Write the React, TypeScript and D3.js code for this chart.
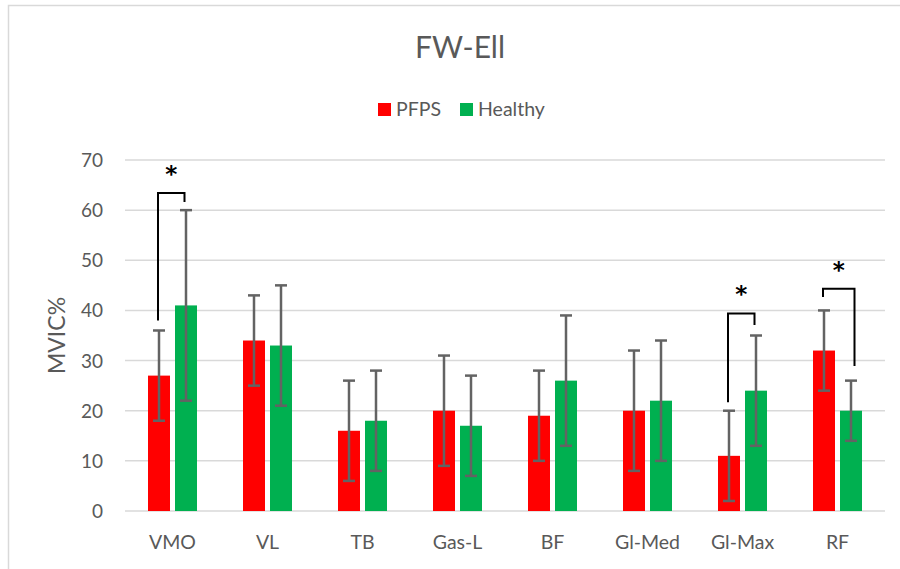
import React from "react";
import * as d3 from "d3";

const categories = ["VMO", "VL", "TB", "Gas-L", "BF", "Gl-Med", "Gl-Max", "RF"];
const seriesNames = ["PFPS", "Healthy"];
const pfpsMeans = [27, 34, 16, 20, 19, 20, 11, 32];
const pfpsSD = [9, 9, 10, 11, 9, 12, 9, 8];
const healthyMeans = [41, 33, 18, 17, 26, 22, 24, 20];
const healthySD = [19, 12, 10, 10, 13, 12, 11, 6];
const yTicks = [0, 10, 20, 30, 40, 50, 60, 70];

// Significance brackets: category index, left-leg bottom, top, right-leg bottom (in MVIC%)
const sigCategory = [0, 6, 7];
const sigLeftLow = [38, 21.7, 42.7];
const sigTop = [63.4, 39.4, 44.3];
const sigRightLow = [61.6, 37.1, 28.9];

const W = 900;
const H = 569;
const margin = { left: 125, right: 15, top: 160, bottom: 58 };
const font = "Lato, 'Open Sans', sans-serif";
const textColor = "#595959";
const colors = ["#ff0000", "#00b050"];

export default function App() {
  const x = d3
    .scaleBand<string>()
    .domain(categories)
    .range([margin.left, W - margin.right])
    .paddingInner(0)
    .paddingOuter(0);
  const y = d3.scaleLinear().domain([0, 70]).range([H - margin.bottom, margin.top]);

  const barW = 22;
  const gap = 5;
  const barX = (i: number, s: number) => {
    const c = (x(categories[i]) as number) + x.bandwidth() / 2;
    return s === 0 ? c - gap / 2 - barW : c + gap / 2;
  };

  const series = [
    { means: pfpsMeans, sd: pfpsSD },
    { means: healthyMeans, sd: healthySD },
  ];

  const cap = 6;

  return (
    <div style={{ position: "absolute", left: 0, top: 0 }}>
      <svg width={W} height={H} style={{ display: "block", background: "#fff" }}>
        <rect x={8.5} y={5.5} width={W + 20} height={H + 20} fill="#fff" stroke="#d9d9d9" strokeWidth={1.5} />

        <text x={460} y={58} textAnchor="middle" fontFamily={font} fontSize={30} fill={textColor}>
          FW-Ell
        </text>

        {/* legend */}
        {seriesNames.map((name, s) => {
          const lx = s === 0 ? 378 : 460;
          return (
            <g key={name}>
              <rect x={lx} y={103} width={13} height={13} fill={colors[s]} />
              <text x={lx + 18} y={116} fontFamily={font} fontSize={19.5} fill={textColor}>
                {name}
              </text>
            </g>
          );
        })}

        {/* gridlines */}
        {yTicks.map((t) => (
          <line
            key={t}
            x1={margin.left}
            x2={W - margin.right}
            y1={y(t)}
            y2={y(t)}
            stroke="#d9d9d9"
            strokeWidth={1.5}
          />
        ))}
        {yTicks.map((t) => (
          <text
            key={"l" + t}
            x={103}
            y={y(t) + 7}
            textAnchor="end"
            fontFamily={font}
            fontSize={19}
            fill={textColor}
          >
            {t}
          </text>
        ))}

        <text
          transform={`translate(65, ${(y(0) + y(70)) / 2}) rotate(-90)`}
          textAnchor="middle"
          fontFamily={font}
          fontSize={23}
          fill={textColor}
        >
          MVIC%
        </text>

        {/* bars */}
        {series.map((ser, s) =>
          ser.means.map((m, i) => (
            <rect
              key={`b${s}-${i}`}
              x={barX(i, s)}
              y={y(m)}
              width={barW}
              height={y(0) - y(m)}
              fill={colors[s]}
            />
          ))
        )}

        {/* error bars */}
        {series.map((ser, s) =>
          ser.means.map((m, i) => {
            const cx = barX(i, s) + barW / 2;
            const hi = y(m + ser.sd[i]);
            const lo = y(Math.max(0, m - ser.sd[i]));
            return (
              <g key={`e${s}-${i}`} stroke="#636363" strokeWidth={2.5}>
                <line x1={cx} x2={cx} y1={hi} y2={lo} />
                <line x1={cx - cap} x2={cx + cap} y1={hi} y2={hi} />
                <line x1={cx - cap} x2={cx + cap} y1={lo} y2={lo} />
              </g>
            );
          })
        )}

        {/* significance brackets */}
        {sigCategory.map((ci, k) => {
          const c = (x(categories[ci]) as number) + x.bandwidth() / 2;
          const xL = c - 14.5;
          const xr = ci === 7 ? c + 17 : c + 12;
          const path = d3.path();
          path.moveTo(xL, y(sigLeftLow[k]));
          path.lineTo(xL, y(sigTop[k]));
          path.lineTo(xr, y(sigTop[k]));
          path.lineTo(xr, y(sigRightLow[k]));
          return (
            <g key={`s${k}`}>
              <path d={path.toString()} fill="none" stroke="#000" strokeWidth={2} />
              <text
                x={(xL + xr) / 2}
                y={y(sigTop[k]) - 11}
                textAnchor="middle"
                fontFamily="'DejaVu Sans', sans-serif"
                fontSize={23}
                fontWeight="bold"
                fill="#000"
              >
                *
              </text>
            </g>
          );
        })}

        {/* category labels */}
        {categories.map((c) => (
          <text
            key={c}
            x={(x(c) as number) + x.bandwidth() / 2}
            y={549}
            textAnchor="middle"
            fontFamily={font}
            fontSize={19.5}
            fill={textColor}
          >
            {c}
          </text>
        ))}
      </svg>
    </div>
  );
}
